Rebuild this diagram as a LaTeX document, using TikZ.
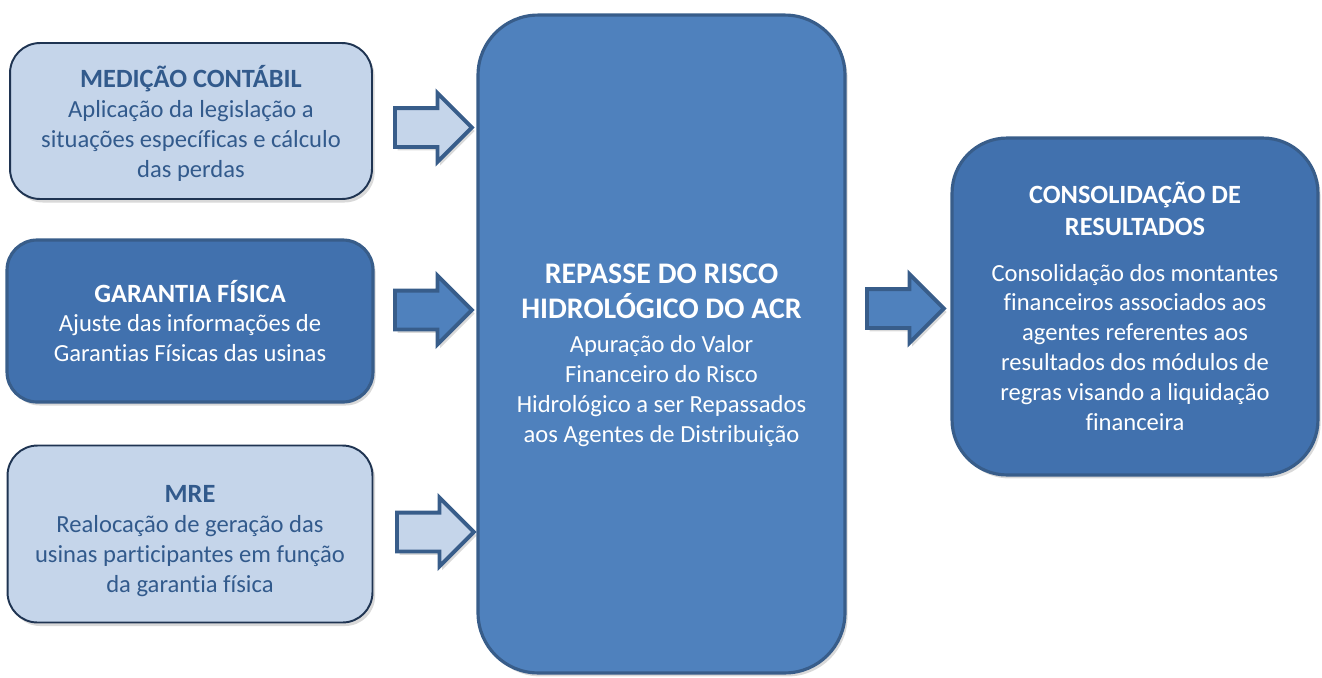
\documentclass[tikz,border=0pt]{standalone}
\usepackage{fontspec}
\setmainfont{Carlito}[Ligatures=NoCommon]
\usepackage{xcolor}
\usetikzlibrary{shapes.arrows,shadows,positioning}

\definecolor{lightfill}{RGB}{197,213,234}
\definecolor{navyline}{RGB}{31,52,82}
\definecolor{darkfill}{RGB}{65,113,174}
\definecolor{midfill}{RGB}{79,129,189}
\definecolor{edgeblue}{RGB}{56,93,138}
\definecolor{lighttext}{RGB}{50,90,140}

\begin{document}
\begin{tikzpicture}[x=0.02cm,y=-0.02cm,
	box/.style={rounded corners=0.6cm,align=center,font=\fontsize{14}{17}\selectfont,
		drop shadow={shadow xshift=1.5pt,shadow yshift=-2pt,opacity=.3}},
	light box/.style={box,draw=navyline,line width=1.1pt,fill=lightfill,text=lighttext},
	dark box/.style={box,draw=edgeblue,line width=1.8pt,fill=darkfill,text=white},
	big box/.style={box,draw=edgeblue,line width=1.8pt,fill=midfill,text=white},
	block arrow/.style={single arrow,draw=edgeblue,line width=2.2pt,anchor=tail,
		inner xsep=0pt,inner ysep=0.35cm,minimum height=1.54cm,single arrow head extend=0.3cm,
		drop shadow={shadow xshift=1.5pt,shadow yshift=-2pt,opacity=.3}},
	light arrow/.style={block arrow,fill=lightfill},
	dark arrow/.style={block arrow,fill=midfill}]

	\useasboundingbox (0,0) rectangle (1322,677);

	% entradas
	\node[light box,minimum width=7.24cm,minimum height=3.12cm] (medicao) at (191,121)
		{\rule{0pt}{15pt}\textbf{\fontsize{15}{18}\selectfont MEDIÇÃO CONTÁBIL}\\Aplicação da legislação a\\situações específicas e cálculo\\das perdas};
	\node[dark box,minimum width=7.32cm,minimum height=3.24cm] (garantia) at (190,321)
		{\textbf{\fontsize{15}{18}\selectfont GARANTIA FÍSICA}\\Ajuste das informações de\\Garantias Físicas das usinas};
	\node[light box,minimum width=7.3cm,minimum height=3.54cm] (mre) at (190,534)
		{\rule{0pt}{18pt}\textbf{\fontsize{15}{18}\selectfont MRE}\\Realocação de geração das\\usinas participantes em função\\da garantia física};

	% modulo central
	\node[big box,rounded corners=1.2cm,minimum width=7.34cm,minimum height=13.16cm] (repasse) at (661.5,344)
		{\rule{0pt}{24pt}\textbf{\fontsize{17}{20}\selectfont REPASSE DO RISCO}\\[2.5pt]\textbf{\fontsize{17}{20}\selectfont HIDROLÓGICO DO ACR}\\[2.5pt]Apuração do Valor\\Financeiro do Risco\\Hidrológico a ser Repassados\\aos Agentes de Distribuição};

	% saida
	\node[dark box,rounded corners=1.1cm,minimum width=7.32cm,minimum height=6.74cm] (consolida) at (1135,306.5)
		{\textbf{\fontsize{15}{18}\selectfont CONSOLIDAÇÃO DE}\\[1pt]\textbf{\fontsize{15}{18}\selectfont RESULTADOS}\\[9pt]Consolidação dos montantes\\financeiros associados aos\\agentes referentes aos\\resultados dos módulos de\\regras visando a liquidação\\financeira};

	% setas
	\node[light arrow] (seta1) at (393,127.5) {};
	\node[dark arrow] (seta2) at (393,310) {};
	\node[light arrow] (seta3) at (395,532) {};
	\node[dark arrow] (seta4) at (865,308.5) {};
\end{tikzpicture}
\end{document}
